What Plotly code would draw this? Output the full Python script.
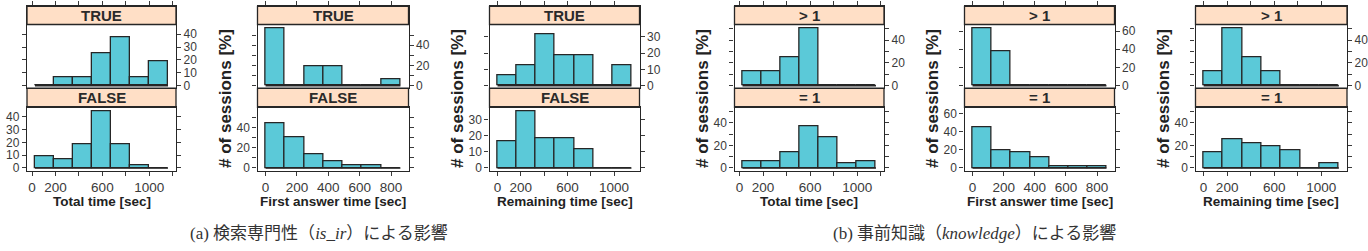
import plotly.graph_objects as go

W, H = 1368, 251

# ---------------- data ----------------
total_edges = [25, 187, 349, 511, 674, 836, 998, 1160]
first_edges = [0, 123, 246, 369, 491, 614, 737, 860]
remain_edges = [0, 164, 329, 493, 657, 821, 986, 1150]

isir_total_true = [0, 6.25, 6.25, 25, 37.5, 6.25, 18.75]
isir_total_false = [9.3, 7.0, 18.6, 44.2, 18.6, 2.3, 0]
isir_first_true = [56.25, 0, 18.75, 18.75, 0, 0, 6.25]
isir_first_false = [44.2, 30.2, 14.0, 7.0, 2.3, 2.3, 0]
isir_remain_true = [6.25, 12.5, 31.25, 18.75, 18.75, 0, 12.5]
isir_remain_false = [16.3, 34.9, 18.6, 18.6, 11.6, 0, 0]

know_total_gt1 = [12.5, 12.5, 25, 50, 0, 0, 0]
know_total_eq1 = [5.9, 5.9, 13.7, 37.3, 27.5, 3.9, 5.9]
know_first_gt1 = [62.5, 37.5, 0, 0, 0, 0, 0]
know_first_eq1 = [45.1, 19.6, 17.6, 11.8, 2.0, 2.0, 2.0]
know_remain_gt1 = [12.5, 50, 25, 12.5, 0, 0, 0]
know_remain_eq1 = [13.7, 25.5, 21.6, 19.6, 15.7, 0, 3.9]

total_ticks = [0, 200, 400, 600, 800, 1000, 1200]
total_ticktext = ["0", "200", "", "600", "", "1000", ""]
first_ticks = [0, 200, 400, 600, 800]
first_ticktext = ["0", "200", "400", "600", "800"]
remain_ticks = [0, 200, 400, 600, 800, 1000]
remain_ticktext = ["0", "200", "", "600", "", "1000"]

x_titles = ["Total time [sec]", "First answer time [sec]", "Remaining time [sec]"]
y_title = "# of sessions [%]"
strips_a = ["TRUE", "FALSE"]
strips_b = ["> 1", "= 1"]
captions = ["(a) 検索専門性（<i>is_ir</i>）による影響",
            "(b) 事前知識（<i>knowledge</i>）による影響"]

# y ticks per panel: (tick values, labels)
y_ticks = [
    ([0, 10, 20, 30, 40], ["0", "10", "20", "30", "40"]),
    ([0, 10, 20, 30, 40, 50], ["0", "", "20", "", "40", ""]),
    ([0, 10, 20, 30], ["0", "10", "20", "30"]),
    ([0, 10, 20, 30, 40, 50], ["0", "", "20", "", "40", ""]),
    ([0, 20, 40, 60], ["0", "20", "40", "60"]),
    ([0, 10, 20, 30, 40, 50], ["0", "", "20", "", "40", ""]),
]

panels = [
    (total_edges, isir_total_true, isir_total_false, total_ticks, total_ticktext, x_titles[0], strips_a),
    (first_edges, isir_first_true, isir_first_false, first_ticks, first_ticktext, x_titles[1], strips_a),
    (remain_edges, isir_remain_true, isir_remain_false, remain_ticks, remain_ticktext, x_titles[2], strips_a),
    (total_edges, know_total_gt1, know_total_eq1, total_ticks, total_ticktext, x_titles[0], strips_b),
    (first_edges, know_first_gt1, know_first_eq1, first_ticks, first_ticktext, x_titles[1], strips_b),
    (remain_edges, know_remain_gt1, know_remain_eq1, remain_ticks, remain_ticktext, x_titles[2], strips_b),
]

# ---------------- layout constants (pixels) ----------------
LEFTS = [27, 257.5, 489.5, 734.5, 964.5, 1195.5]
RIGHTS = [176, 408.5, 639.5, 884, 1114.5, 1347]
STRIP_TOP, STRIP1_BOT, TOP_BOT, STRIP2_BOT, BOT_BOT = 6.5, 25.0, 90.0, 109.5, 174.0
XPAD = 0.06
YPAD_LO, YPAD_HI = 0.045, 0.075

CYAN = "#5BC9D8"
STRIP_FILL = "#FFDFC6"
LINE = "#262626"
TICKC = "#3a3a3a"
FONT = "Liberation Sans, Arial, sans-serif"


def fx(px):
    return px / W


def fy(py):
    return 1 - py / H


fig = go.Figure()
layout = dict(
    width=W, height=H, margin=dict(l=0, r=0, t=0, b=0), autosize=False,
    paper_bgcolor="white", plot_bgcolor="rgba(0,0,0,0)",
    showlegend=False, bargap=0, hovermode=False,
    font=dict(family=FONT, color=TICKC, size=13.5),
)
shapes = []
annotations = []

for i, (edges, top_vals, bot_vals, xt, xtt, xtitle, strip_txt) in enumerate(panels):
    L, R = LEFTS[i], RIGHTS[i]
    span = edges[-1] - edges[0]
    xr = [edges[0] - XPAD * span, edges[-1] + XPAD * span]
    centers = [(edges[j] + edges[j + 1]) / 2 for j in range(len(edges) - 1)]
    widths = [edges[j + 1] - edges[j] for j in range(len(edges) - 1)]
    ymax = max(max(top_vals), max(bot_vals))
    ylo, yhi = -YPAD_LO * ymax, ymax * (1 + YPAD_HI)
    k = (TOP_BOT - STRIP1_BOT) / (yhi - ylo)
    yhi_top = ylo + (TOP_BOT - STRIP_TOP) / k
    yv, yl = y_ticks[i]

    nt, nb = 2 * i + 1, 2 * i + 2
    for n, vals in ((nt, top_vals), (nb, bot_vals)):
        xa = "x" if n == 1 else f"x{n}"
        ya = "y" if n == 1 else f"y{n}"
        fig.add_trace(go.Scatter(x=[edges[0], edges[-1]], y=[0, 0], mode="lines",
                                 line=dict(color=LINE, width=1.6), xaxis=xa, yaxis=ya,
                                 hoverinfo="skip"))
        fig.add_trace(go.Bar(x=centers, y=vals, width=widths,
                             marker=dict(color=CYAN, line=dict(color=LINE, width=1.3)),
                             xaxis=xa, yaxis=ya, hoverinfo="skip"))

    common_x = dict(domain=[fx(L), fx(R)], range=xr, tickvals=xt, ticks="outside",
                    ticklen=4, tickwidth=1, tickcolor=TICKC, showline=True,
                    linecolor=LINE, linewidth=1.3, mirror=True, showgrid=False,
                    zeroline=False, fixedrange=True)
    common_y = dict(tickvals=yv, ticktext=yl, ticks="outside", ticklen=4, tickwidth=1,
                    tickcolor=TICKC, showline=True, linecolor=LINE, linewidth=1.3,
                    mirror="ticks", showgrid=False, zeroline=False, fixedrange=True,
                    tickfont=dict(size=12, color=TICKC))
    kx_t = "xaxis" if nt == 1 else f"xaxis{nt}"
    ky_t = "yaxis" if nt == 1 else f"yaxis{nt}"
    layout[kx_t] = dict(common_x, anchor="y" if nt == 1 else f"y{nt}", side="top",
                        showticklabels=False)
    layout[f"xaxis{nb}"] = dict(common_x, anchor=f"y{nb}", side="bottom",
                                ticktext=xtt, tickfont=dict(size=13.5, color=TICKC))
    layout[ky_t] = dict(common_y, domain=[fy(TOP_BOT), fy(STRIP_TOP)],
                        anchor="x" if nt == 1 else f"x{nt}", side="right",
                        range=[ylo, yhi_top])
    layout[f"yaxis{nb}"] = dict(common_y, domain=[fy(BOT_BOT), fy(STRIP2_BOT)],
                                anchor=f"x{nb}", side="left", range=[ylo, yhi])

    # strips
    for (y0, y1), txt in (((STRIP1_BOT, STRIP_TOP), strip_txt[0]),
                          ((STRIP2_BOT, TOP_BOT), strip_txt[1])):
        shapes.append(dict(type="rect", xref="paper", yref="paper",
                           x0=fx(L), x1=fx(R), y0=fy(y0), y1=fy(y1),
                           fillcolor=STRIP_FILL, line=dict(color=LINE, width=1.3),
                           layer="below"))
        annotations.append(dict(text=f"<b>{txt}</b>", xref="paper", yref="paper",
                                x=fx((L + R) / 2), y=fy((y0 + y1) / 2),
                                xanchor="center", yanchor="middle", showarrow=False,
                                font=dict(family=FONT, size=15, color="#2a2a2a")))
    # x title
    annotations.append(dict(text=f"<b>{xtitle}</b>", xref="paper", yref="paper",
                            x=fx((L + R) / 2), y=fy(205.5), xanchor="center",
                            yanchor="middle", showarrow=False,
                            font=dict(family=FONT, size=13.5, color="#222")))
    # y title
    if i == 0:
        annotations.append(dict(text=f"<b>{y_title}</b>", xref="paper", yref="paper",
                                x=fx(1.5), y=fy(100.5), xanchor="right", yanchor="middle",
                                textangle=-90, showarrow=False,
                                font=dict(family=FONT, size=17, color="#222")))
    else:
        annotations.append(dict(text=f"<b>{y_title}</b>", xref="paper", yref="paper",
                                x=fx(L - 32), y=fy(100.5), xanchor="center",
                                yanchor="middle", textangle=-90, showarrow=False,
                                font=dict(family=FONT, size=17, color="#222")))

# captions
for cx, cap in zip([319, 974], captions):
    annotations.append(dict(text=cap, xref="paper", yref="paper", x=fx(cx), y=fy(238.5),
                            xanchor="center", yanchor="middle", showarrow=False,
                            font=dict(family="Liberation Serif, Noto Sans CJK JP, serif",
                                      size=17, color="#333")))

layout["shapes"] = shapes
layout["annotations"] = annotations
fig.update_layout(**layout)
fig.write_html("out.html")
